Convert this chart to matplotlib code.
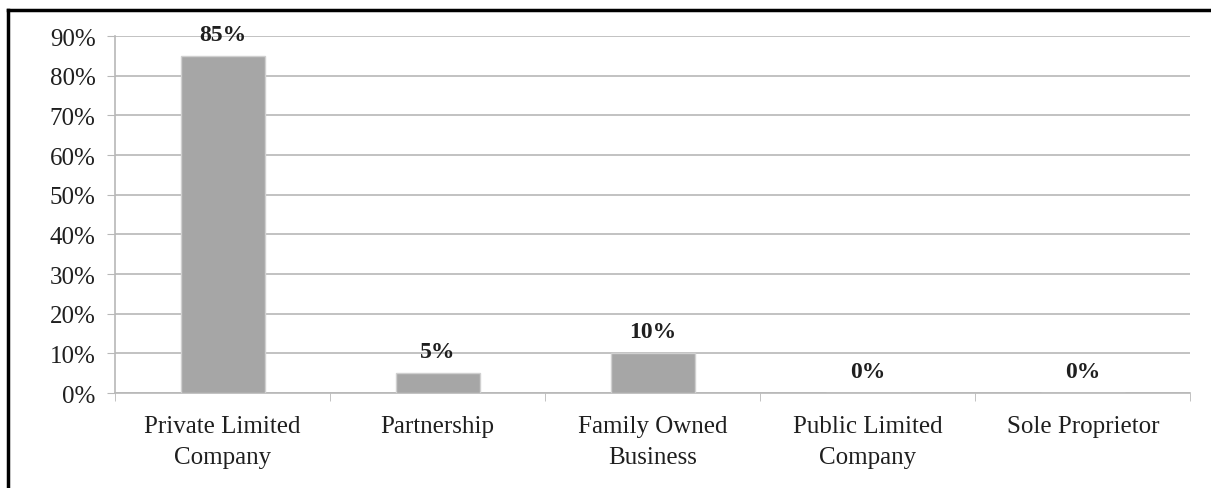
import matplotlib.pyplot as plt
from matplotlib.lines import Line2D
from matplotlib.ticker import MultipleLocator, FuncFormatter

categories = ["Private Limited\nCompany", "Partnership", "Family Owned\nBusiness",
              "Public Limited\nCompany", "Sole Proprietor"]
shares = [0.85, 0.05, 0.10, 0.00, 0.00]
value_labels = ["85%", "5%", "10%", "0%", "0%"]

plt.rcParams['font.family'] = ['Liberation Serif', 'DejaVu Serif']

fig = plt.figure(figsize=(12.11, 4.89), dpi=100)
ax = fig.add_axes([0.095, 0.194, 0.888, 0.730])

x = range(len(categories))
ax.bar(x, shares, width=0.39, color='#a6a6a6', edgecolor='#d0d0d0', linewidth=1.0, zorder=3)

# data labels above each bar
for i, (v, lab) in enumerate(zip(shares, value_labels)):
    ax.text(i, v + 0.055, lab, ha='center', va='center', fontsize=17,
            fontweight='bold', color='#1f1f1f', zorder=4)

ax.set_xlim(-0.5, len(categories) - 0.5)
ax.set_ylim(0, 0.9)
ax.yaxis.set_major_locator(MultipleLocator(0.1))
ax.yaxis.set_major_formatter(FuncFormatter(lambda v, p: f"{v * 100:.0f}%"))
ax.grid(True, axis='y', color='#b8b8b8', linewidth=1.2, zorder=0)

ax.set_xticks(x)
ax.set_xticklabels(categories, fontsize=18, color='#1f1f1f', linespacing=1.5)
ax.set_xticks([i + 0.5 for i in range(-1, len(categories))], minor=True)
ax.tick_params(axis='x', which='major', length=0, pad=16)
ax.tick_params(axis='x', which='minor', length=6, color='#b8b8b8')
ax.tick_params(axis='y', length=6, color='#b8b8b8', labelsize=18, labelcolor='#1f1f1f', pad=8)

for side in ['top', 'right']:
    ax.spines[side].set_visible(False)
ax.spines['left'].set_color('#b8b8b8')
ax.spines['bottom'].set_color('#b8b8b8')
ax.spines['left'].set_linewidth(1.2)
ax.spines['bottom'].set_linewidth(1.2)

# outer frame (top and left edges only, as in the source image)
fig.add_artist(Line2D([0.007, 0.007], [0.0, 0.978], transform=fig.transFigure, color='black', linewidth=2.5))
fig.add_artist(Line2D([0.007, 1.0], [0.978, 0.978], transform=fig.transFigure, color='black', linewidth=2.5))

fig.savefig('out.png', dpi=100)
